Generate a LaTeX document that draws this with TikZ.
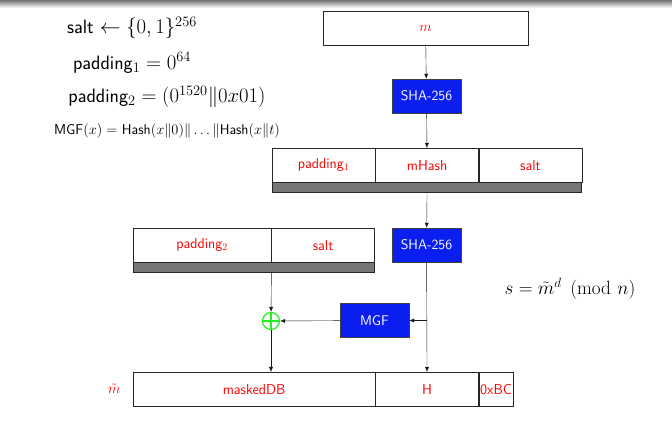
\documentclass[tikz,border=0pt]{standalone}
\usepackage{graphicx}
\usepackage{amsmath,amssymb}
\usetikzlibrary{arrows.meta,positioning}
\definecolor{hashblue}{HTML}{0A1EF0}
\definecolor{bargray}{HTML}{777777}
\definecolor{xorgreen}{HTML}{22EE22}

\begin{document}
\begin{tikzpicture}[x=1pt,y=-1pt,
    field/.style={draw=black!85, fill=white, minimum height=34pt,
                  inner sep=0pt, font=\sffamily\fontsize{14.4}{16}\selectfont,
                  text=red},
    hashbox/.style={draw=black!75, fill=hashblue, minimum width=69pt,
                    minimum height=34pt, inner sep=0pt,
                    font=\sffamily\fontsize{14}{16}\selectfont, text=white},
    bar/.style={draw=black!85, fill=bargray, minimum height=10pt,
                inner sep=0pt},
    arrow/.style={-{Latex[length=5pt,width=4pt]}, black!90},
    xor/.style={circle, draw=xorgreen, line width=1.2pt, minimum size=17pt,
                inner sep=0pt,
                path picture={\draw[xorgreen, line width=1.2pt]
                  (path picture bounding box.north) -- (path picture bounding box.south)
                  (path picture bounding box.west) -- (path picture bounding box.east);}},
    note/.style={font=\sffamily\fontsize{19.4}{22}\selectfont},
]
\useasboundingbox (0,0) rectangle (672,427);
\shade[top color=black!55, bottom color=white] (0,0) rectangle (672,8);

% Definitions
\node[note] (saltdef) at (132,28) {salt $\leftarrow \{0,1\}^{256}$};
\node[note] (padonedef) at (132,63) {padding$_1 = 0^{64}$};
\node[note] (padtwodef) at (167,97) {padding$_2 = (0^{1520}\|0x01)$};
\node[font=\sffamily\fontsize{14.2}{16}\selectfont] (mgfdef) at (167,131)
     {MGF$(x) = $ Hash$(x\|0)\|\ldots\|$Hash$(x\|t)$};
\node[font=\fontsize{17.28}{20}\selectfont] (sigdef) at (570,289)
     {\scalebox{1.11}{$s = \tilde{m}^d \pmod{n}$}};

% Message and first hash
\node[field, minimum width=205pt] (msg) at (425.5,28) {$m$};
\node[hashbox] (shaone) at (426.5,96) {SHA-256};

% M' = padding1 || mHash || salt
\node[field, minimum width=103pt, anchor=north west] (padone) at (272,148)
     {padding$_1$};
\node[field, minimum width=103pt, right=0pt of padone] (mhash) {mHash};
\node[field, minimum width=103pt, right=0pt of mhash] (saltone) {salt};
\node[bar, minimum width=309pt, below=0pt of mhash] (barone) {};

% DB = padding2 || salt
\node[field, minimum width=138pt, anchor=north west] (padtwo) at (133,228)
     {padding$_2$};
\node[field, minimum width=103pt, right=0pt of padtwo] (salttwo) {salt};
\node[bar, minimum width=241pt, anchor=north west] (bartwo) at (padtwo.south west) {};

% Second hash, mask generation and xor
\node[hashbox] (shatwo) at (426.5,245) {SHA-256};
\node[hashbox] (mgf) at (374.5,320.5) {MGF};
\node[xor] (xorop) at (271,321) {};
\coordinate (branch) at (shatwo.south |- mgf);

% EM = maskedDB || H || 0xBC
\node[field, minimum width=242pt, anchor=north west] (maskeddb) at (133,372)
     {maskedDB};
\node[field, minimum width=103pt, right=0pt of maskeddb] (hfield) {H};
\node[field, minimum width=34pt, right=0pt of hfield] (trailer) {0xBC};
\node[text=red, font=\fontsize{14}{16}\selectfont, left=9pt of maskeddb] (emlabel)
     {$\tilde{m}$};

% Arrows
\draw[arrow] (msg) -- (shaone);
\draw[arrow] (shaone) -- (mhash);
\draw[arrow] (barone) -- (shatwo);
\draw[arrow] (padtwo.east |- bartwo.south) -- (xorop);
\draw[arrow] (xorop) -- (xorop |- maskeddb.north);
\draw[arrow] (mgf) -- (xorop);
\draw[arrow] (shatwo) -- (hfield);
\draw[arrow] (branch) -- (mgf);
\end{tikzpicture}
\end{document}
